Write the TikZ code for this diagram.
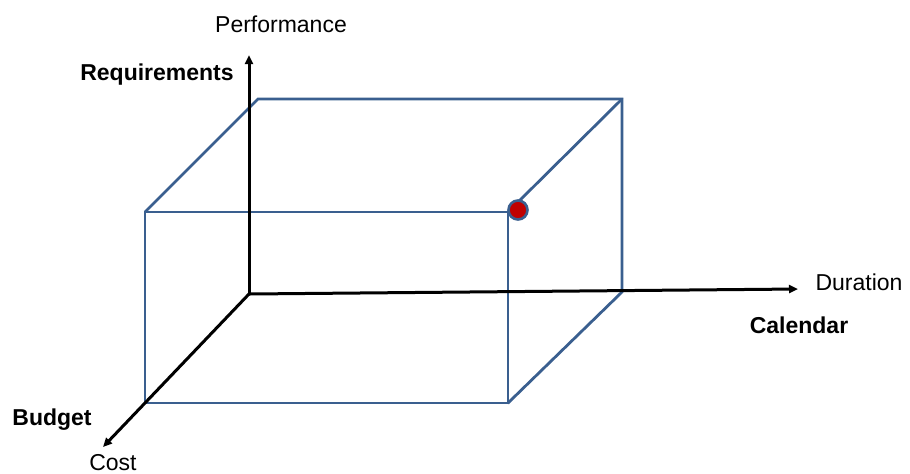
\documentclass[tikz,border=0pt]{standalone}
\usepackage{fontspec}
\setmainfont{Liberation Sans}
\usetikzlibrary{arrows.meta}
\definecolor{boxblue}{HTML}{3A5F8F}
\definecolor{dotred}{HTML}{C00000}
\begin{document}
\begin{tikzpicture}[x=0.5pt,y=-0.5pt,
  axis/.style={line width=1.5pt,-{Triangle[length=4.5pt,width=4pt]}},
  edge/.style={draw=boxblue,line width=1.4pt,line cap=round,line join=miter},
  lbl/.style={font=\fontsize{11.5}{13}\selectfont,inner sep=0pt},
  blbl/.style={lbl,font=\fontsize{11.5}{13}\selectfont\bfseries}]
\useasboundingbox (0,0) rectangle (910,473);
% box corners
\coordinate (ftl) at (145,212);
\coordinate (ftr) at (508,212);
\coordinate (fbr) at (508,403);
\coordinate (fbl) at (145,403);
\coordinate (btl) at (258,99);
\coordinate (btr) at (622,99);
\coordinate (bbr) at (622,292);
% axes
\coordinate (o) at (249,294);
\coordinate (xend) at (798,289);
\coordinate (yend) at (249,55);
\coordinate (zend) at (103,447);
% box
\draw[edge] (ftl) -- (ftr) -- (fbr) -- (fbl) -- cycle;
\draw[edge] (ftl) -- (btl) -- (btr) -- (bbr) -- (fbr);
\draw[edge] (ftr) -- (btr);
% axes
\draw[axis] (o) -- (xend);
\draw[axis] (o) -- (yend);
\draw[axis] (o) -- (zend);
% dot
\node[circle,draw=boxblue,fill=dotred,line width=1.3pt,minimum size=9.5pt,inner sep=0pt] (dot) at (518,210) {};
% labels
\node[lbl] (perf) at (281,24) {Performance};
\node[blbl] (req) at (157,75) {Requirements};
\node[lbl] (dur) at (859,282) {Duration};
\node[blbl] (cal) at (799,325) {Calendar};
\node[blbl] (bud) at (52,420) {Budget};
\node[lbl] (cost) at (113,463) {Cost};
\end{tikzpicture}
\end{document}
